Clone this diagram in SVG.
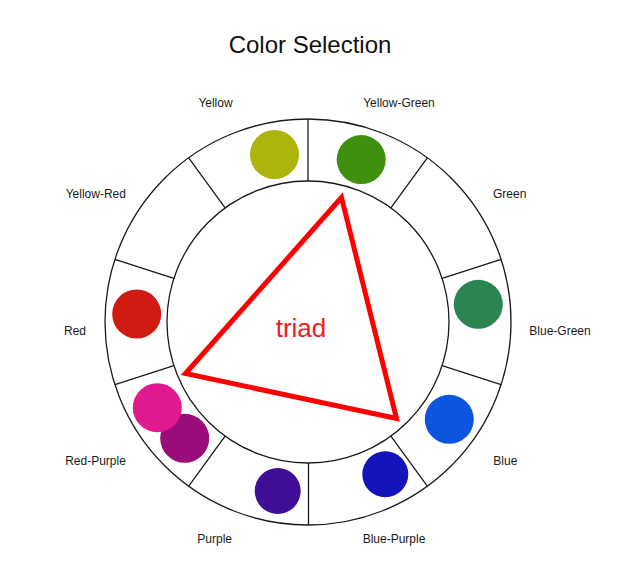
<svg xmlns="http://www.w3.org/2000/svg" width="638" height="584" viewBox="0 0 638 584">
  <style>
    .ring { fill: none; stroke: #1a1a1a; stroke-width: 1.3; }
    .div { stroke: #1a1a1a; stroke-width: 1.3; }
    .lbl { font-family: "Liberation Sans", Arial, sans-serif; font-size: 12px; fill: #1a1a1a; text-anchor: middle; }
    .title { font-family: "Liberation Sans", Arial, sans-serif; font-size: 24px; fill: #111; text-anchor: middle; }
    .triad { font-family: "Liberation Sans", Arial, sans-serif; font-size: 26px; fill: #ee1c24; text-anchor: middle; }
  </style>
  <rect width="638" height="584" fill="#ffffff"/>
  <text class="title" x="310" y="53">Color Selection</text>

  <g id="wheel">
    <circle class="ring" cx="308" cy="322" r="203"/>
    <circle class="ring" cx="308" cy="322" r="141"/>
    <line class="div" x1="442.1" y1="278.4" x2="501.1" y2="259.3"/>
    <line class="div" x1="390.9" y1="207.9" x2="427.3" y2="157.8"/>
    <line class="div" x1="308" y1="181" x2="308" y2="119"/>
    <line class="div" x1="225.1" y1="207.9" x2="188.7" y2="157.8"/>
    <line class="div" x1="173.9" y1="278.4" x2="114.9" y2="259.3"/>
    <line class="div" x1="173.9" y1="365.6" x2="114.9" y2="384.7"/>
    <line class="div" x1="225.1" y1="436.1" x2="188.7" y2="486.2"/>
    <line class="div" x1="308.5" y1="463" x2="308.5" y2="525"/>
    <line class="div" x1="390.9" y1="436.1" x2="427.3" y2="486.2"/>
    <line class="div" x1="442.1" y1="365.6" x2="501.1" y2="384.7"/>
  </g>

  <g id="yellow">
    <circle cx="274.5" cy="154.5" r="24.5" fill="#abb50c"/>
    <text class="lbl" x="215.5" y="106.5">Yellow</text>
  </g>
  <g id="yellow-green">
    <circle cx="361.2" cy="159.6" r="24.5" fill="#3f900e"/>
    <text class="lbl" x="399" y="106.5">Yellow-Green</text>
  </g>
  <g id="green">
    <text class="lbl" x="509.7" y="197.5">Green</text>
  </g>
  <g id="blue-green">
    <circle cx="478.3" cy="304.3" r="24.5" fill="#2a8550"/>
    <text class="lbl" x="560" y="335">Blue-Green</text>
  </g>
  <g id="blue">
    <circle cx="449.3" cy="419.3" r="24.5" fill="#0d55dd"/>
    <text class="lbl" x="505.3" y="465">Blue</text>
  </g>
  <g id="blue-purple">
    <circle cx="385.3" cy="474.3" r="23" fill="#1412b9"/>
    <text class="lbl" x="394" y="543">Blue-Purple</text>
  </g>
  <g id="purple">
    <circle cx="277.7" cy="491" r="23" fill="#3e0e96"/>
    <text class="lbl" x="214.7" y="543">Purple</text>
  </g>
  <g id="red-purple">
    <circle cx="184.7" cy="438.3" r="24.5" fill="#9b0c7b"/>
    <circle cx="157.3" cy="407.7" r="24.5" fill="#e0198f"/>
    <text class="lbl" x="95.5" y="465">Red-Purple</text>
  </g>
  <g id="red">
    <circle cx="136.7" cy="314" r="24.5" fill="#d11a12"/>
    <text class="lbl" x="75" y="335">Red</text>
  </g>
  <g id="yellow-red">
    <text class="lbl" x="95.8" y="197.5">Yellow-Red</text>
  </g>

  <g id="connectors">
    <polygon points="341.5,197.5 185.5,373.5 396.5,418.5" fill="none" stroke="#ff0000" stroke-width="5" stroke-linejoin="miter"/>
  </g>
  <g id="triad">
    <text class="triad" x="301" y="336.5">triad</text>
  </g>
</svg>
